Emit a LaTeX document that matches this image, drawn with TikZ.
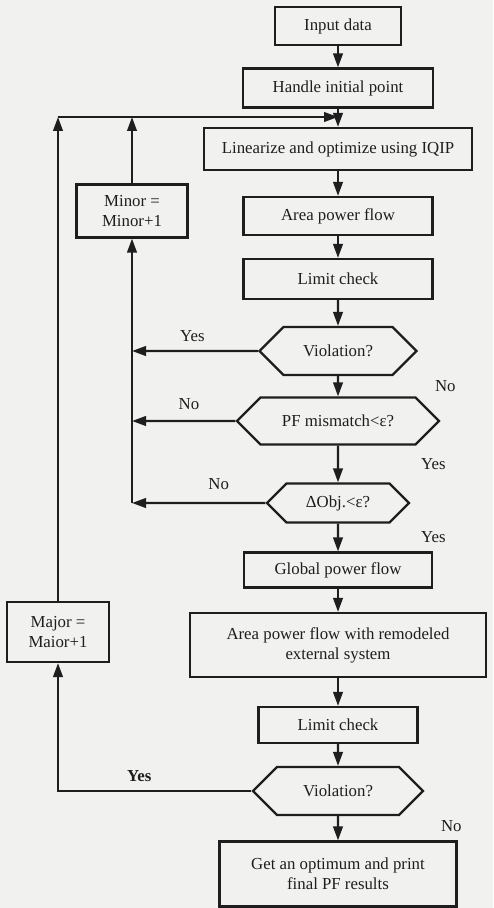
\documentclass[tikz,border=0pt]{standalone}
\usepackage{fontspec}
\setmainfont{Liberation Serif}
\usetikzlibrary{arrows.meta,shapes.symbols}
\definecolor{inkline}{HTML}{1E1E1E}
\definecolor{paper}{HTML}{F1F1EF}
\newcommand{\flowfont}{\fontsize{8.4}{10}\selectfont}
\tikzset{
  flownode/.style={
    rectangle, draw=inkline, line width=1.1pt,
    align=center, inner sep=2pt, font=\flowfont, text=inkline
  },
  decisionnode/.style={
    signal, signal to=west and east, signal pointer angle=90,
    draw=inkline, line width=1.1pt, inner sep=1pt,
    font=\flowfont, text=inkline
  },
  flowarrow/.style={-{Triangle[length=7pt,width=4.8pt]}, line width=1.1pt, color=inkline},
  flowlabel/.style={font=\flowfont, text=inkline, inner sep=1pt},
}
\begin{document}
\begin{tikzpicture}[x=0.5pt,y=-0.5pt]
  \path[use as bounding box, fill=paper] (0,0) rectangle (493,908);
  % main column
  \node[flownode, minimum width=63pt, minimum height=19pt] (input) at (338,26) {Input data};
  \node[flownode, minimum width=95pt, minimum height=19.5pt] (handle) at (338,88) {Handle initial point};
  \node[flownode, minimum width=134pt, minimum height=21pt] (linearize) at (338,149) {Linearize and optimize using IQIP};
  \node[flownode, minimum width=94.5pt, minimum height=19pt] (area) at (338,216) {Area power flow};
  \node[flownode, minimum width=94.5pt, minimum height=20pt] (limit) at (338,279) {Limit check};
  \node[decisionnode, minimum width=78.5pt, minimum height=24pt] (viol) at (338,351) {Violation?};
  \node[decisionnode, minimum width=101pt, minimum height=23.5pt] (mismatch) at (338,421) {PF mismatch<ε?};
  \node[decisionnode, minimum width=71pt, minimum height=19.5pt] (dobj) at (338,503) {ΔObj.<ε?};
  \node[flownode, minimum width=94pt, minimum height=17.5pt] (global) at (338,570) {Global power flow};
  \node[flownode, minimum width=148pt, minimum height=32pt] (remodel) at (338,645) {Area power flow with remodeled\\external system};
  \node[flownode, minimum width=79.5pt, minimum height=18pt] (limitb) at (338,725) {Limit check};
  \node[decisionnode, minimum width=85pt, minimum height=24pt] (violb) at (338,791) {Violation?};
  \node[flownode, minimum width=118.5pt, minimum height=32.5pt] (final) at (338,874) {Get an optimum and print\\final PF results};
  % counters on the left
  \node[flownode, minimum width=55.5pt, minimum height=26.5pt] (minor) at (132,211) {Minor =\\Minor+1};
  \node[flownode, minimum width=51pt, minimum height=30pt] (major) at (58,632) {Major =\\Maior+1};
  \coordinate (loopin) at (338,117);
  \coordinate (loopcorner) at (major.north |- loopin);
  % connectors
  \draw[flowarrow] (input) -- (handle);
  \draw[flowarrow] (handle) -- (linearize);
  \draw[flowarrow] (major) -- (loopcorner);
  \draw[flowarrow] (loopcorner) -- (loopin);
  \draw[flowarrow] (minor) -- (minor |- loopin);
  \draw[flowarrow] (linearize) -- (area);
  \draw[flowarrow] (area) -- (limit);
  \draw[flowarrow] (limit) -- (viol);
  \draw[flowarrow] (viol) -- node[flowlabel, right=47pt] (violno) {No} (mismatch);
  \draw[flowarrow] (viol) -- node[flowlabel, above=3pt, pos=0.52] (violyes) {Yes} (viol -| minor);
  \draw[flowarrow] (mismatch) -- node[flowlabel, above=4pt, pos=0.45] (mismatchno) {No} (mismatch -| minor);
  \draw[flowarrow] (mismatch) -- node[flowlabel, right=40pt] (mismatchyes) {Yes} (dobj);
  \draw[flowarrow] (dobj) -- node[flowlabel, above=5pt, pos=0.35] (dobjno) {No} (dobj -| minor);
  \draw[flowarrow] (dobj -| minor) -- (minor);
  \draw[flowarrow] (dobj) -- node[flowlabel, right=40pt] (dobjyes) {Yes} (global);
  \draw[flowarrow] (global) -- (remodel);
  \draw[flowarrow] (remodel) -- (limitb);
  \draw[flowarrow] (limitb) -- (violb);
  \draw[flowarrow] (violb) -- node[flowlabel, right=50pt, pos=0.4] (violbno) {No} (final);
  \draw[flowarrow] (violb) -| node[flowlabel, above=3pt, pos=0.29, font=\flowfont\bfseries] (violbyes) {Yes} (major);
\end{tikzpicture}
\end{document}
